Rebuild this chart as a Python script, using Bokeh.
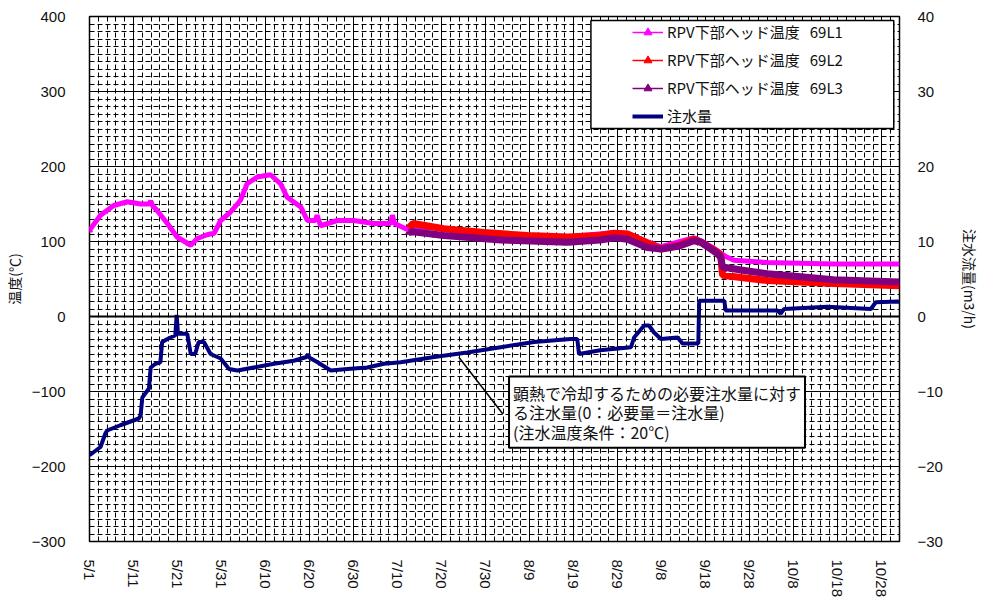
import math
from bokeh.plotting import figure
from bokeh.models import (Range1d, LinearAxis, FixedTicker, Span, BoxAnnotation,
                          Label, Legend, LegendItem)
from bokeh.embed import file_html
from bokeh.resources import INLINE

# ---------------- data (x = days since 5/1) ----------------
x_ticks = list(range(0, 181, 10))
x_labels = ["5/1", "5/11", "5/21", "5/31", "6/10", "6/20", "6/30", "7/10", "7/20",
            "7/30", "8/9", "8/19", "8/29", "9/8", "9/18", "9/28", "10/8", "10/18", "10/28"]
y_ticks = list(range(-300, 401, 100))
y2_ticks = list(range(-30, 41, 10))

# RPV lower head temperature 69L1 (°C)
days_l1 = [0, 2.5, 5.5, 8.6, 11.6, 13.5, 13.9, 14.3, 15.4, 17.7, 19.9, 23, 24.5, 26.7, 28.3,
           29.8, 32, 34.3, 35.8, 38.1, 41.1, 43.4, 44.9, 48, 49.5, 51.3, 51.7, 52.5, 56.3, 60,
           64.6, 68.4, 68.8, 69.3, 72.2, 73, 80.5, 89.6, 99.5, 108.6, 119.2, 122.2, 126.7,
           129.8, 137.3, 138.9, 142.6, 144.5, 146.4, 154, 169, 184]
temp_l1 = [115, 135, 148, 153, 150, 150, 154, 148, 141, 124, 106, 95, 104, 109, 111,
           128, 139, 155, 177, 186, 189, 177, 159, 146, 128, 128, 135, 121, 128, 128,
           124, 124, 135, 124, 116, 120, 117, 112, 108, 106, 112, 111, 100,
           93, 105, 101, 88, 80, 75, 72, 70, 70]

# 69L2 (°C)
days_l2 = [72.5, 73.5, 80.5, 89.6, 99.5, 108.6, 116, 119.2, 122.2, 126.7, 129.8, 134, 137.3,
           138.9, 142.6, 143.4, 143.8, 148, 154, 169, 184]
temp_l2 = [118, 124, 117, 112, 108, 106, 108, 111, 110, 98, 90, 95, 103,
           99, 86, 81, 55, 52, 48, 44, 41]

# 69L3 (°C)
days_l3 = [72.5, 73.5, 80.5, 93.4, 108.6, 116, 119.2, 122.2, 126.7, 129.8, 134, 137.3, 138.9,
           142.6, 143.4, 143.8, 148, 154, 169, 184]
temp_l3 = [112, 113, 108, 102, 99, 102, 105, 103, 92, 90, 94, 101, 99,
           84, 79, 66, 62, 57, 49, 46]

# injection amount relative to required amount (m3/h)
days_f = [0, 2.5, 3.6, 4, 7, 11.2, 11.6, 12, 13.5, 13.9, 15, 16.1, 16.5, 17.7, 19.5,
          19.8, 20.1, 22.2, 23, 24, 24.8, 26, 27.5, 29.8, 31.7, 33.6, 37.3, 41.9, 46.4, 49.3,
          49.6, 50, 51.8, 54.8, 58.6, 63.1, 66.9, 70.7, 78.3, 85.8, 93.4, 101, 109.3, 110.8,
          111.2, 116, 123, 123.7, 126, 127.1, 128.2, 129.8, 133.6, 134.7, 137.7, 138.3,
          138.5, 144.2, 144.5, 156.3, 157, 157.8, 167.6, 177.5, 178.6, 183.6, 184]
flow = [-18.5, -17.4, -15.6, -15.2, -14.5, -13.6, -13.2, -10.8, -9.6, -6.8, -6.3, -6.1, -3.4, -3.0, -2.5,
        0.2, -2.3, -2.3, -5.0, -5.0, -3.4, -3.4, -5.0, -5.6, -7.0, -7.2, -6.8, -6.3, -5.9, -5.4,
        -5.0, -5.5, -6.1, -7.2, -7.0, -6.8, -6.3, -6.1, -5.4, -4.8, -4.1, -3.4, -3.0, -3.0,
        -5.0, -4.5, -4.1, -2.8, -1.2, -1.2, -2.1, -3.0, -2.8, -3.6, -3.6, -3.6,
        2.1, 2.1, 0.8, 0.8, 0.4, 1.0, 1.3, 1.0, 1.9, 2.0, 1.9]

legend_labels = ["RPV下部ヘッド温度   69L1", "RPV下部ヘッド温度   69L2",
                 "RPV下部ヘッド温度   69L3", "注水量"]
note_text = "顕熱で冷却するための必要注水量に対す\nる注水量(0：必要量＝注水量)\n(注水温度条件：20℃)"

C1, C2, C3, CF = "#FF00FF", "#FF0000", "#800080", "#000080"
LATIN = "Liberation Sans"
CJK = "Noto Sans CJK JP"

# ---------------- figure ----------------
p = figure(frame_width=810, frame_height=525, min_border_left=81, min_border_top=16,
           min_border_right=10, min_border_bottom=10,
           x_range=Range1d(0, 184), y_range=Range1d(-300, 400),
           output_backend="svg", toolbar_location=None)
p.extra_y_ranges = {"flow": Range1d(-30, 40)}
p.background_fill_color = "white"
p.border_fill_color = "white"
p.outline_line_color = "black"
p.outline_line_width = 1.5

xt = FixedTicker(ticks=x_ticks, minor_ticks=list(range(0, 185, 2)))
yt = FixedTicker(ticks=y_ticks, minor_ticks=list(range(-300, 401, 10)))
p.xaxis.ticker = xt
p.yaxis.ticker = yt
p.xgrid.ticker = xt
p.ygrid.ticker = yt

for g in (p.xgrid, p.ygrid):
    g.grid_line_color = "black"
    g.grid_line_width = 1
    g.minor_grid_line_color = "black"
    g.minor_grid_line_width = 1
    g.minor_grid_line_dash = "5 3"

def minus(v):
    return str(v).replace("-", "\u2212")

p.xaxis.major_label_overrides = dict(zip(x_ticks, x_labels))
p.xaxis.major_label_orientation = -math.pi / 2
p.yaxis.major_label_overrides = {t: minus(t) for t in y_ticks}
p.yaxis.axis_label = "温度(℃)"

ax2 = LinearAxis(y_range_name="flow", ticker=FixedTicker(ticks=y2_ticks),
                 axis_label="注水流量(m3/h)")
ax2.major_label_overrides = {t: minus(t) for t in y2_ticks}
p.add_layout(ax2, "right")

for ax in (p.xaxis[0], p.yaxis[0], ax2):
    ax.axis_line_color = None
    ax.major_tick_line_color = None
    ax.minor_tick_line_color = None
    ax.major_label_text_font = LATIN
    ax.major_label_text_font_size = "15px"
    ax.major_label_text_color = "#111111"
    ax.axis_label_text_font = CJK
    ax.axis_label_text_font_size = "14px"
    ax.axis_label_text_font_style = "normal"
    ax.axis_label_text_color = "#111111"
p.xaxis.major_label_standoff = 12
p.yaxis.major_label_standoff = 18
ax2.major_label_standoff = 12
ax2.axis_label_standoff = 14

p.add_layout(Span(location=0, dimension="width", line_color="black", line_width=2))

# ---------------- series ----------------
# thin stand-ins (hidden beneath the thick lines) used for the legend glyphs
legend_renderers = []
for dx, dy, col in ((days_l1, temp_l1, C1), (days_l2, temp_l2, C2), (days_l3, temp_l3, C3)):
    rl = p.line(dx[:1], dy[:1], line_color=col, line_width=1.5)
    rm = p.scatter(dx[:1], dy[:1], marker="triangle", size=6, color=col)
    legend_renderers.append([rl, rm])

p.line(days_l1, temp_l1, line_color=C1, line_width=5)
p.line(days_l2, temp_l2, line_color=C2, line_width=7)
p.line(days_l3, temp_l3, line_color=C3, line_width=7)
rf = p.line(days_f, flow, line_color=CF, line_width=4, y_range_name="flow")

# annotation pointer + box
p.segment(x0=[83.9], y0=[-54.3], x1=[93.9], y1=[-130.0], line_color="black", line_width=1.5)
p.add_layout(Label(x=95.3, y=-80.0, text=note_text, text_font=CJK, text_font_size="16px",
                   text_align="left", text_baseline="top", text_line_height=0.82,
                   background_fill_color="white", border_line_color="black",
                   border_line_width=2, padding=4, text_color="#111111"))

# legend frame
p.add_layout(BoxAnnotation(left=113.9, right=182.7, bottom=250.7, top=394.7,
                           fill_color="white", fill_alpha=1, line_color="black",
                           line_alpha=1, line_width=1.5))

items = [LegendItem(label=lab, renderers=rs) for lab, rs in zip(legend_labels[:3], legend_renderers)]
items.append(LegendItem(label=legend_labels[3], renderers=[rf]))

leg = Legend(items=items, location=(543, 415), border_line_color=None,
             background_fill_alpha=0, padding=0, margin=0, spacing=7, glyph_width=31,
             glyph_height=20, label_standoff=4, label_text_font=CJK,
             label_text_font_size="15px", label_text_color="#111111")
p.add_layout(leg)

open("out.html", "w").write(file_html(p, INLINE))
